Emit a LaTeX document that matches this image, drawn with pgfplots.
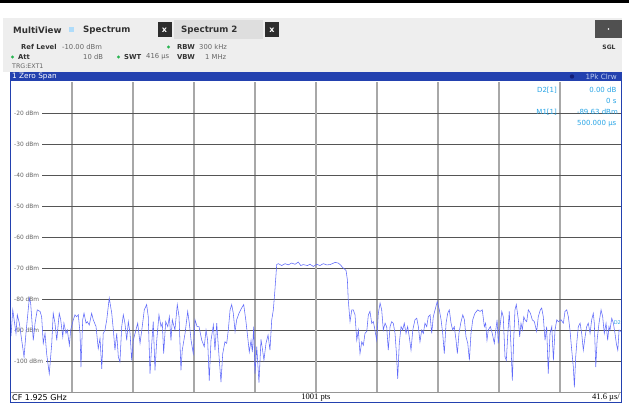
\documentclass[border=0pt]{standalone}
\usepackage{fontspec}
\setmainfont{DejaVu Sans}
\newfontfamily\serifft{Liberation Serif}
\usepackage{pgfplots}
\pgfplotsset{compat=1.18}

\definecolor{barblue}{RGB}{35,65,175}
\definecolor{panel}{RGB}{238,238,238}
\definecolor{tabgray}{RGB}{222,222,222}
\definecolor{xbox}{RGB}{45,45,45}
\definecolor{sglbox}{RGB}{80,80,80}
\definecolor{trace}{RGB}{95,105,250}
\definecolor{mkblue}{RGB}{40,165,230}
\definecolor{okgreen}{RGB}{40,180,80}
\definecolor{lbl}{RGB}{50,50,50}
\definecolor{val}{RGB}{100,100,100}
\definecolor{tick}{RGB}{100,100,100}
\definecolor{icon}{RGB}{175,220,250}
\definecolor{darkdot}{RGB}{20,30,120}
\definecolor{pkclr}{RGB}{190,205,240}
\definecolor{footline}{RGB}{150,150,150}
\definecolor{vgrid}{RGB}{168,168,168}
\definecolor{hgrid}{RGB}{85,85,85}

\begin{document}
\begin{tikzpicture}[x=1pt,y=1pt]
\useasboundingbox (0,0) rectangle (629,405);
\fill[white] (0,0) rectangle (629,405);
% top strip and header panel
\fill[black] (0,401.7) rectangle (629,405);
\fill[panel] (3,333) rectangle (622,387);
\fill[tabgray] (174,366) rectangle (263,385);
\fill[xbox] (157.5,367.5) rectangle (171.5,382.5);
\fill[xbox] (265,367.5) rectangle (279,382.5);
\node[text=white,font=\bfseries\fontsize{8}{9}\selectfont] at (164.5,375) {x};
\node[text=white,font=\bfseries\fontsize{8}{9}\selectfont] at (272,375) {x};
\fill[sglbox] (595,367) rectangle (622,385);
\fill[white] (608.5,376) circle (0.8);
\node[anchor=west,text=lbl,font=\bfseries\fontsize{8.7}{10}\selectfont,inner sep=0] at (13,375) {MultiView};
\fill[icon] (69,373) rectangle (74,378);
\node[anchor=west,text=lbl,font=\bfseries\fontsize{8.7}{10}\selectfont,inner sep=0] at (83,375) {Spectrum};
\node[anchor=west,text=lbl,font=\bfseries\fontsize{8.7}{10}\selectfont,inner sep=0] at (181,375) {Spectrum 2};
\node[text=lbl,font=\bfseries\fontsize{6}{7}\selectfont] at (609,358) {SGL};
% setting rows
\begin{scope}[every node/.style={anchor=west,inner sep=0,font=\fontsize{6.8}{8}\selectfont}]
\node[text=lbl,font=\bfseries\fontsize{6.8}{8}\selectfont] at (21,358) {Ref Level};
\node[text=val] at (62,358) {-10.00 dBm};
\fill[okgreen] (168.5,358) circle (1.6);
\node[text=lbl,font=\bfseries\fontsize{6.8}{8}\selectfont] at (177,358) {RBW};
\node[text=val] at (199,358) {300 kHz};
\fill[okgreen] (12.5,348) circle (1.6);
\node[text=lbl,font=\bfseries\fontsize{6.8}{8}\selectfont] at (18,348) {Att};
\node[text=val] at (83,348) {10 dB};
\fill[okgreen] (118.5,348) circle (1.6);
\node[text=lbl,font=\bfseries\fontsize{6.8}{8}\selectfont] at (124,348) {SWT};
\node[text=val] at (146,348) {416 µs};
\node[text=lbl,font=\bfseries\fontsize{6.8}{8}\selectfont] at (177,348) {VBW};
\node[text=val] at (205,348) {1 MHz};
\node[text=val,font=\fontsize{6.3}{7}\selectfont] at (12,338.5) {TRG:EXT1};
\end{scope}
% title bar
\fill[barblue] (10,324.5) rectangle (622,332.5);
\node[anchor=west,text=white,inner sep=0,font=\fontsize{7.3}{8}\selectfont] at (12,328.5) {1 Zero Span};
\fill[darkdot] (572,328.5) circle (2.2);
\node[anchor=east,text=pkclr,inner sep=0,font=\fontsize{7.2}{8}\selectfont] at (617,328.5) {1Pk Clrw};
% footer
\draw[footline,line width=0.8pt] (11,13) -- (621,13);
\node[anchor=west,text=black,inner sep=0,font=\fontsize{8}{9}\selectfont] at (12,7.8) {CF 1.925 GHz};
\node[text=black,inner sep=0,font=\serifft\fontsize{8.5}{9}\selectfont] at (316,7.8) {1001 pts};
\node[anchor=east,text=black,inner sep=0,font=\serifft\fontsize{8.5}{9}\selectfont] at (620,7.8) {41.6 µs/};

\begin{axis}[
    at={(11pt,13pt)}, anchor=south west,
    scale only axis, width=610pt, height=310pt,
    xmin=0, xmax=416, ymin=-110, ymax=-10,
    xtick={41.6,83.2,124.8,166.4,249.6,291.2,332.8,374.4},
    ytick={-100,-90,-80,-70,-60,-50,-40,-30,-20},
    xticklabels={}, yticklabels={},
    major tick length=0pt,
    axis line style={draw=none},
    grid=major,
    x grid style={color=vgrid, line width=1.3pt},
    y grid style={color=hgrid, line width=0.7pt},
    extra x ticks={208}, extra x tick labels={},
    extra x tick style={grid=major, major grid style={black, line width=0.6pt}},
    clip=false,
]
\foreach \v in {-20,-30,-40,-50,-60,-70,-80,-90,-100}{
  \edef\temp{\noexpand\node[anchor=west, fill=white, inner xsep=3pt, inner ysep=0.8pt,
    text=tick, font=\noexpand\fontsize{5.9}{7}\noexpand\selectfont]
    at (axis cs:0,\v) {\v\noexpand\ dBm};}
  \temp
}
\node[anchor=east, text=mkblue, inner sep=0, font=\fontsize{7}{8}\selectfont] at (axis cs:372.4,-12.6) {D2[1]};
\node[anchor=east, text=mkblue, inner sep=0, font=\fontsize{7}{8}\selectfont] at (axis cs:413,-12.6) {0.00 dB};
\node[anchor=east, text=mkblue, inner sep=0, font=\fontsize{7}{8}\selectfont] at (axis cs:413,-16.2) {0 s};
\node[anchor=east, text=mkblue, inner sep=0, font=\fontsize{7}{8}\selectfont] at (axis cs:372.4,-19.7) {M1[1]};
\node[anchor=east, text=mkblue, inner sep=0, font=\fontsize{7}{8}\selectfont] at (axis cs:414,-19.7) {-89.63 dBm};
\node[anchor=east, text=mkblue, inner sep=0, font=\fontsize{7}{8}\selectfont] at (axis cs:413,-23.4) {500.000 µs};
\node[anchor=east, text=mkblue, inner sep=0, font=\fontsize{5}{6}\selectfont] at (axis cs:416,-87.5) {D2};
\addplot[color=trace, line width=0.55pt] coordinates {
(0,-92) (1.2,-83.5) (3.4,-91.1) (4.3,-85.1) (5.7,-87.8) (7.3,-93.3) (8.9,-98.7) (10.2,-91.1)
(12.5,-79.7) (13.4,-81.3) (15.2,-93.3) (16.4,-87.8) (17.9,-83.5) (19.8,-84.0) (20.9,-85.7)
(22.0,-94.3) (23.2,-91.1) (24.3,-97.6) (26.1,-104.1) (27.8,-94.3) (28.8,-84.6) (30.0,-87.8)
(31.2,-93.3) (32.9,-84.6) (33.9,-86.7) (35.3,-92.2) (36.1,-87.8) (37.5,-91.1) (38.4,-90.0)
(39.8,-94.9) (40.7,-90.0) (42.5,-86.7) (43.6,-85.1) (44.8,-85.7) (45.9,-85.1) (47.1,-91.1)
(47.7,-102.0) (48.9,-86.7) (49.8,-84.6) (51.2,-87.8) (52.0,-87.3) (53.4,-88.4) (55.0,-84.6)
(56.1,-86.7) (58.0,-88.9) (59.5,-96.0) (60.7,-92.7) (61.9,-102.5) (62.9,-91.1) (64.1,-90.0)
(65.3,-86.7) (67.0,-79.7) (68.7,-84.6) (69.8,-90.0) (70.9,-96.5) (72.1,-91.1) (73.2,-98.7)
(74.3,-100.3) (75.5,-88.9) (76.6,-85.1) (77.7,-87.8) (78.9,-93.3) (80.0,-87.3) (81.2,-91.1)
(82.3,-99.8) (83.4,-93.3) (85.2,-90.0) (86.4,-87.8) (88.0,-94.3) (89.5,-88.9) (90.9,-83.5)
(92.5,-81.8) (93.6,-85.7) (94.8,-104.1) (96.0,-94.3) (97.0,-87.3) (98.2,-103.0) (99.4,-93.3)
(100.9,-85.1) (102.3,-88.9) (103.2,-87.8) (104.1,-97.6) (105.5,-87.3) (106.9,-88.9) (108.0,-85.7)
(109.1,-93.3) (110.0,-86.7) (111.8,-90.0) (113.4,-81.8) (114.6,-85.7) (115.9,-103.0) (116.8,-96.5)
(118.7,-91.1) (120.5,-84.0) (121.6,-87.8) (122.8,-93.3) (124.3,-97.6) (125.5,-86.7) (126.9,-88.9)
(128.2,-88.9) (130.1,-93.3) (131.8,-95.4) (133.0,-90.0) (134.1,-93.3) (135.2,-106.3) (136.4,-93.3)
(138.0,-88.4) (139.1,-96.5) (140.3,-87.8) (141.9,-98.7) (143.2,-106.8) (144.4,-97.6) (145.9,-93.8)
(147.1,-94.3) (148.2,-90.0) (149.4,-83.5) (150.5,-81.8) (151.6,-84.6) (152.8,-90.5) (153.9,-86.7)
(155.5,-84.6) (157.3,-82.9) (158.7,-81.8) (160.1,-86.7) (161.4,-92.2) (162.5,-97.1) (163.7,-93.3)
(164.6,-97.1) (165.5,-88.9) (166.4,-104.1) (167.6,-95.4) (169.1,-107.0) (170.5,-93.0) (171.7,-97.0)
(172.5,-99.7) (173.9,-94.3) (175.3,-91.6) (176.6,-96.5) (177.8,-86.8) (178.9,-83.5) (180.0,-77.0)
(181.2,-68.9) (182.3,-68.6) (184.6,-69.2) (186.9,-68.6) (189.1,-69.0) (191.4,-68.4) (193.7,-68.8)
(195.9,-68.1) (197.6,-69.2) (199.3,-68.9) (202.1,-69.2) (203.9,-68.8) (206.2,-69.5) (208.5,-68.8)
(210.7,-69.2) (213.0,-68.6) (215.3,-69.0) (217.6,-68.9) (221.0,-68.2) (223.2,-68.4) (224.4,-68.9)
(226.6,-70.0) (228.5,-70.8) (229.4,-73.8) (230.0,-80.3) (231.2,-87.3) (232.4,-83.5) (233.4,-83.5)
(234.6,-85.1) (235.8,-93.3) (236.9,-90.0) (238.0,-97.6) (239.2,-93.8) (240.3,-94.9) (241.4,-91.1)
(242.6,-90.5) (243.7,-85.1) (244.8,-84.0) (246.0,-87.8) (247.1,-87.3) (248.2,-90.0) (249.4,-93.3)
(250.5,-84.6) (251.7,-81.3) (252.8,-83.5) (253.9,-90.0) (255.1,-87.8) (256.2,-88.9) (257.3,-96.5)
(258.5,-88.9) (259.6,-87.3) (260.7,-87.8) (261.9,-91.1) (263.0,-98.7) (263.7,-105.8) (264.8,-94.3)
(266.0,-88.9) (267.1,-90.0) (268.2,-87.8) (269.4,-91.1) (270.5,-88.9) (271.6,-92.2) (272.8,-96.5)
(274.0,-90.0) (275.5,-86.7) (276.7,-86.2) (277.8,-88.9) (278.9,-93.8) (280.1,-90.0) (281.2,-91.1)
(282.3,-87.8) (283.5,-88.9) (284.6,-85.7) (285.8,-85.1) (286.9,-91.1) (288.0,-85.7) (289.2,-83.5)
(290.7,-80.8) (292.1,-83.5) (293.3,-86.7) (294.4,-91.1) (295.5,-97.6) (296.7,-87.8) (297.8,-84.6)
(298.9,-83.5) (300.1,-87.8) (301.2,-90.0) (302.3,-88.9) (303.5,-93.3) (304.4,-97.6) (305.5,-91.1)
(306.7,-87.8) (308.1,-85.1) (309.2,-86.7) (310.3,-92.2) (311.5,-94.3) (312.6,-99.8) (313.7,-91.1)
(314.9,-86.7) (316.4,-84.6) (318.3,-83.5) (319.9,-84.0) (321.4,-83.5) (322.8,-88.9) (323.7,-87.8)
(324.6,-93.3) (325.5,-90.0) (326.9,-88.9) (328.2,-91.1) (329.6,-94.3) (330.6,-90.0) (331.5,-86.7)
(332.3,-94.3) (333.5,-88.9) (334.7,-84.0) (335.7,-85.7) (336.9,-98.7) (337.8,-99.8) (338.7,-92.2)
(339.8,-84.0) (341.0,-95.4) (341.9,-106.3) (342.8,-93.3) (343.7,-83.5) (344.6,-81.8) (346.0,-86.7)
(346.9,-92.2) (347.8,-87.8) (348.7,-90.0) (349.7,-85.7) (350.5,-86.7) (351.7,-87.3) (352.8,-83.5)
(354.2,-84.6) (355.5,-86.7) (356.9,-87.3) (358.5,-90.5) (359.6,-85.7) (361.0,-83.5) (361.9,-82.9)
(363.0,-85.7) (364.2,-93.3) (365.3,-88.9) (366.4,-104.1) (367.6,-91.1) (368.8,-88.9) (369.9,-99.8)
(371.0,-90.0) (372.2,-86.7) (373.3,-87.3) (375.1,-86.7) (376.7,-87.8) (377.8,-84.0) (379.0,-83.5)
(380.1,-85.7) (381.2,-90.0) (382.4,-96.5) (383.5,-102.0) (384.2,-108.5) (385.1,-98.7) (386.0,-93.3)
(386.9,-88.9) (388.1,-87.8) (389.2,-91.1) (390.3,-96.5) (391.5,-92.2) (392.6,-88.9) (393.7,-87.8)
(394.9,-91.1) (396.0,-86.7) (397.1,-84.6) (397.8,-87.8) (398.8,-102.0) (399.7,-93.3) (401.0,-87.8)
(402.4,-83.5) (403.5,-85.7) (404.6,-91.1) (405.8,-87.8) (406.9,-93.3) (407.8,-88.9) (408.5,-90.0)
(409.7,-86.2) (410.8,-87.8) (411.9,-91.1) (412.8,-94.3) (413.8,-96.5) (414.7,-90.0) (416,-90.5)
};
\end{axis}
% frame
\draw[barblue, line width=1pt] (10.5,3) rectangle (621.5,324.5);
\end{tikzpicture}
\end{document}
